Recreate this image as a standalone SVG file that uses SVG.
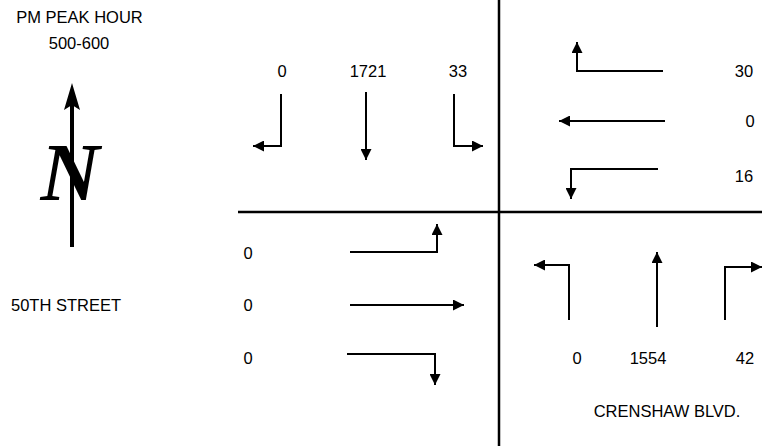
<svg xmlns="http://www.w3.org/2000/svg" width="762" height="446" viewBox="0 0 762 446">
<defs>
<marker id="ah" markerUnits="userSpaceOnUse" markerWidth="11" markerHeight="11" refX="11" refY="5.5" orient="auto">
<path d="M0,0 L11,5.5 L0,11 Z" fill="#000"/>
</marker>
<style>
.t{font-family:"Liberation Sans",Arial,sans-serif;font-size:16.5px;fill:#000;text-anchor:middle}
.mv{fill:none;stroke:#000;stroke-width:2;marker-end:url(#ah)}
.road{stroke:#000;stroke-width:2.5}
</style>
</defs>
<rect width="762" height="446" fill="#fff"/>
<g id="title">
<text class="t" x="79.5" y="23">PM PEAK HOUR</text>
<text class="t" x="79" y="49">500-600</text>
</g>
<g id="north-arrow">
<line x1="72" y1="104" x2="72" y2="247" stroke="#000" stroke-width="4"/>
<polygon points="72,83 80,110 72,105 64,110" fill="#000"/>
<text x="70" y="200" font-family="'Liberation Serif',serif" font-style="italic" font-weight="bold" font-size="82" text-anchor="middle">N</text>
</g>
<g id="street-labels">
<text class="t" x="66" y="311">50TH STREET</text>
<text class="t" x="667" y="417">CRENSHAW BLVD.</text>
</g>
<g id="roads">
<line class="road" x1="499" y1="0" x2="499" y2="446"/>
<line class="road" x1="238" y1="212" x2="762" y2="212"/>
</g>
<g id="connectors">
<path class="mv" d="M281,94 V146 H253"/>
<path class="mv" d="M366,92 V160"/>
<path class="mv" d="M454,94 V146 H483"/>
<path class="mv" d="M663,71 H577 V42"/>
<path class="mv" d="M665,121 H559"/>
<path class="mv" d="M658,169 H571 V199"/>
<path class="mv" d="M350,252 H437 V224"/>
<path class="mv" d="M350,305 H464"/>
<path class="mv" d="M347,354 H435 V385"/>
<path class="mv" d="M569,320 V265 H534"/>
<path class="mv" d="M657,327 V252"/>
<path class="mv" d="M725,320 V267 H762"/>
</g>
<g id="southbound">
<text class="t" x="282" y="77">0</text>
<text class="t" x="368" y="77">1721</text>
<text class="t" x="458" y="77">33</text>
</g>
<g id="westbound">
<text class="t" x="744" y="77">30</text>
<text class="t" x="750" y="127">0</text>
<text class="t" x="744" y="182">16</text>
</g>
<g id="eastbound">
<text class="t" x="248" y="259">0</text>
<text class="t" x="248" y="311">0</text>
<text class="t" x="248" y="364">0</text>
</g>
<g id="northbound">
<text class="t" x="577" y="364">0</text>
<text class="t" x="648" y="364">1554</text>
<text class="t" x="745" y="364">42</text>
</g>
</svg>
